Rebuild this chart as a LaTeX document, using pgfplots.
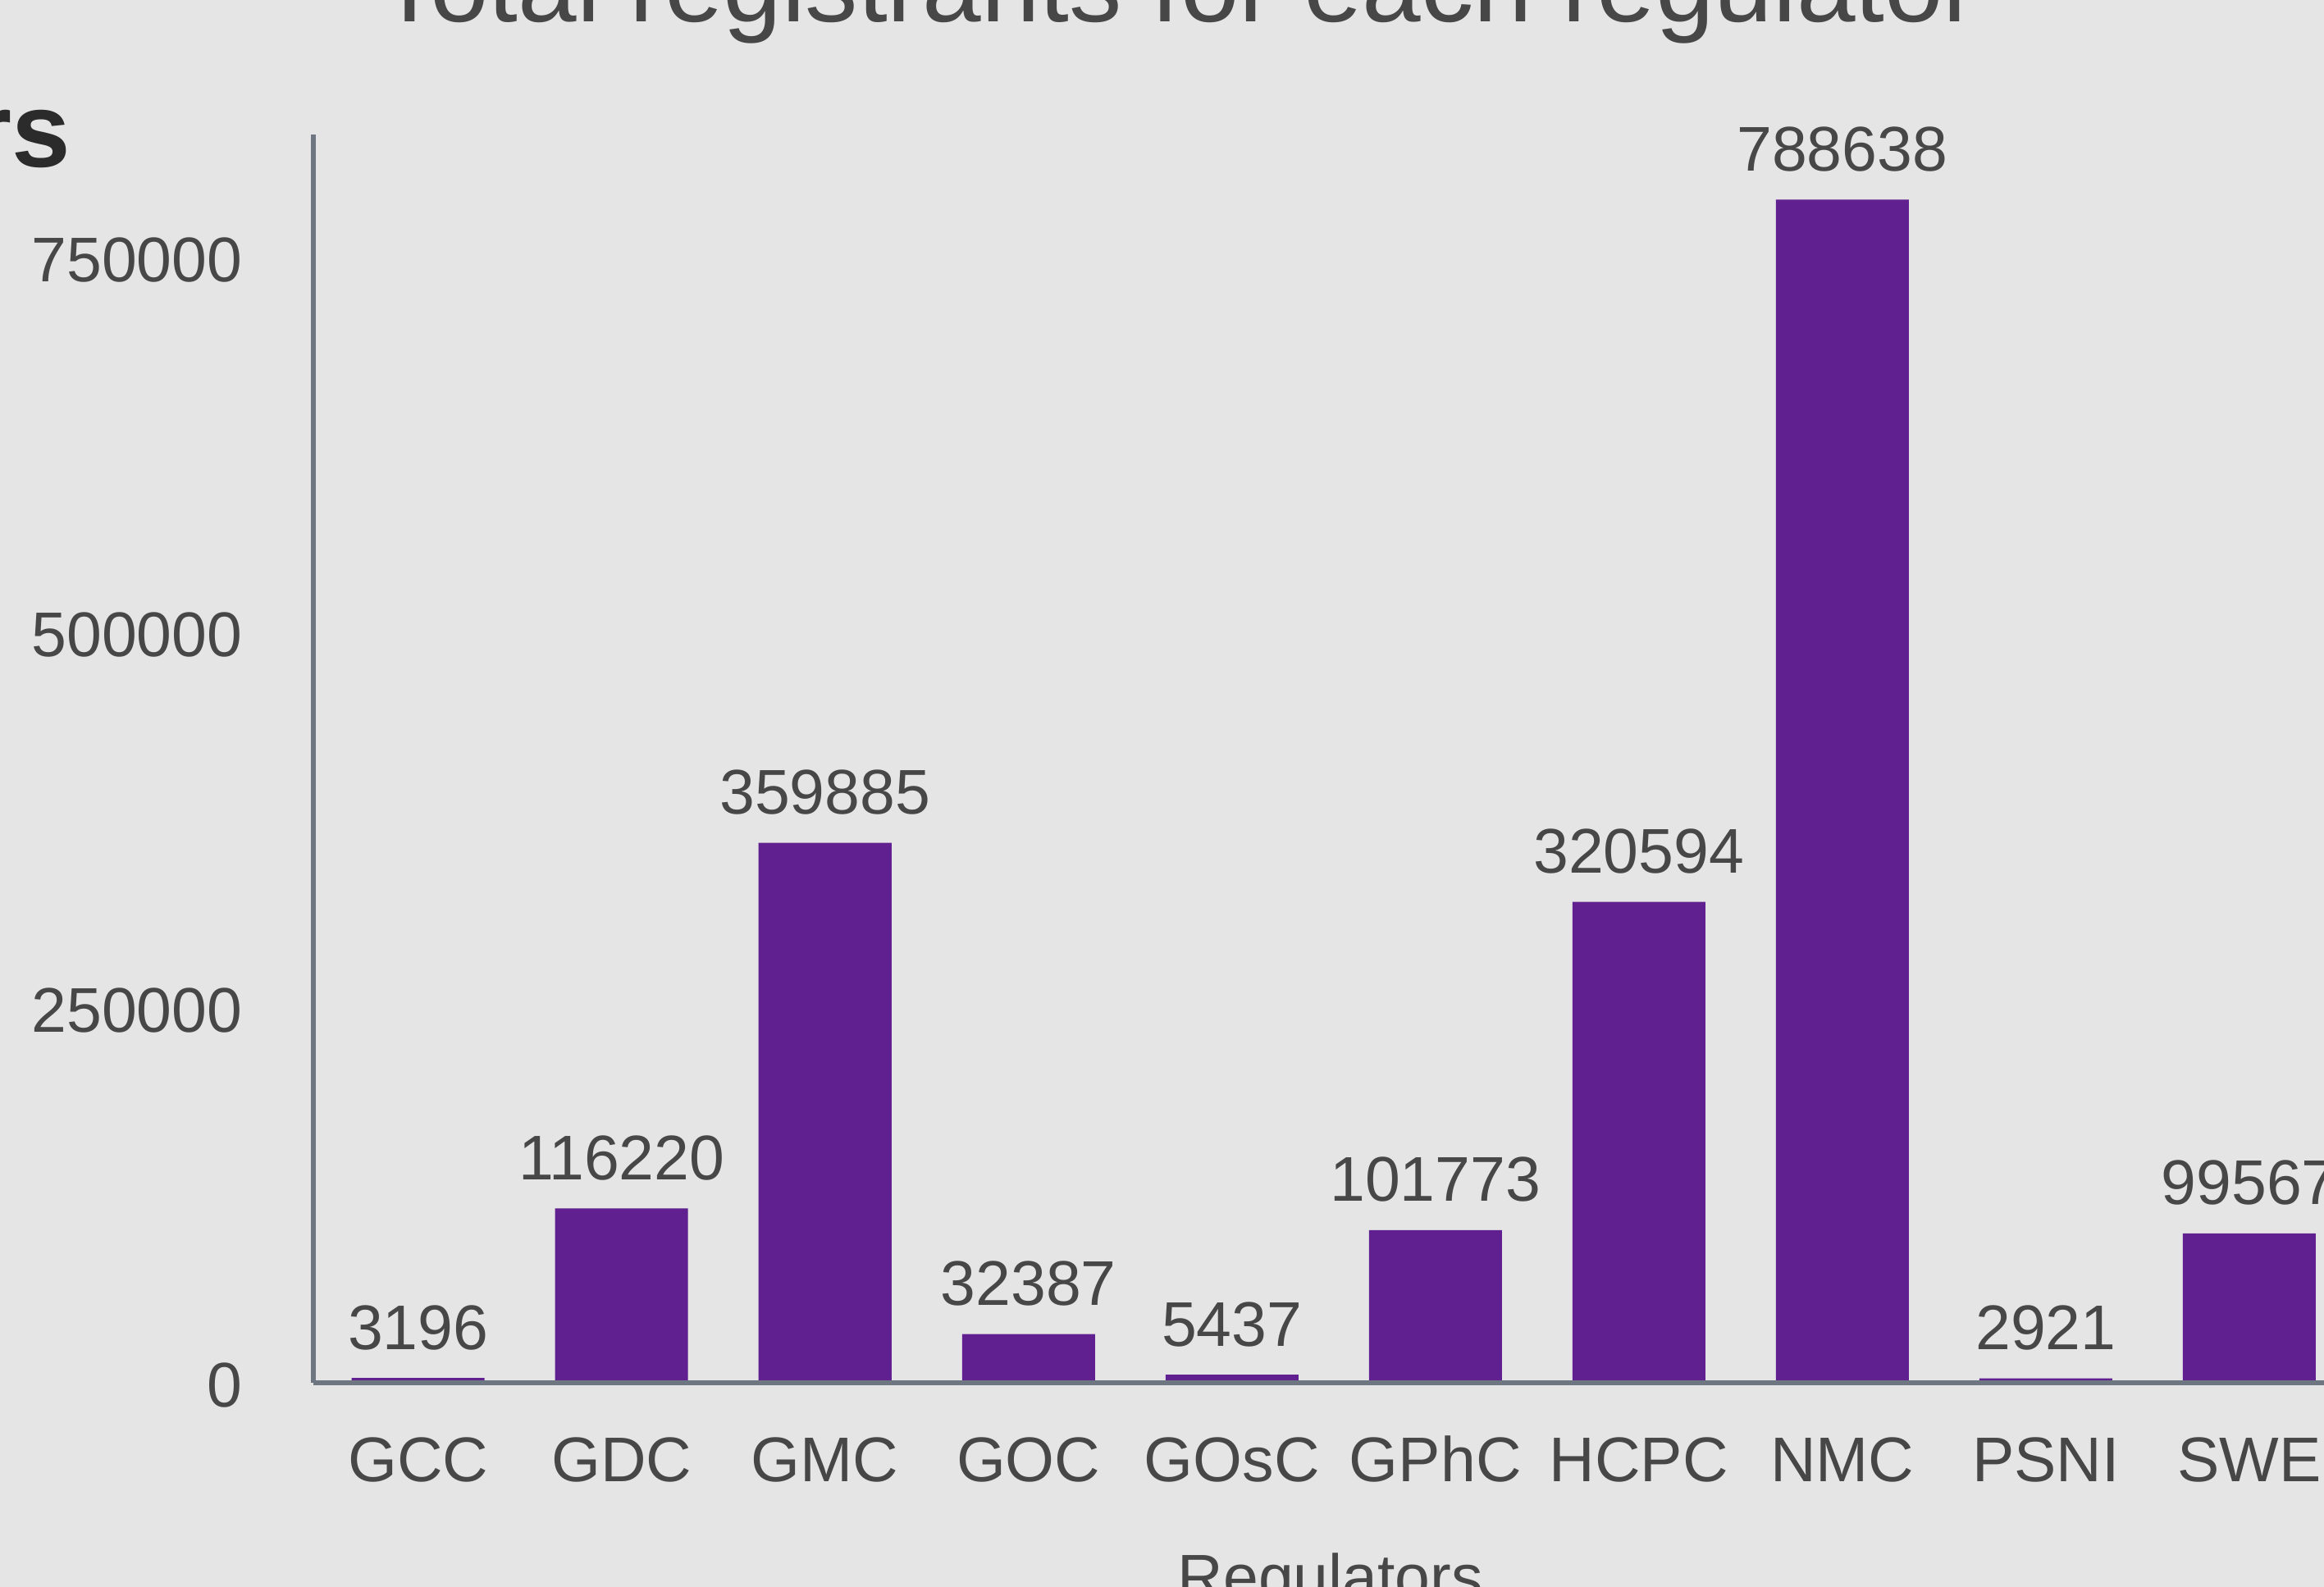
\documentclass[border=0pt]{standalone}
\usepackage{pgfplots}
\pgfplotsset{compat=1.18}
\usepackage{fontspec}
\setmainfont{Liberation Sans}
\definecolor{bg}{HTML}{E5E5E5}
\definecolor{barc}{HTML}{61208F}
\definecolor{axc}{HTML}{6E7781}
\definecolor{txt}{HTML}{474747}
\definecolor{dark}{HTML}{2B2B2B}
\newcommand{\lab}{\fontsize{21.9pt}{26pt}\selectfont}
\pgfplotstableread{
x y lab
0 3196 3196
1 116220 116220
2 359885 359885
3 32387 32387
4 5437 5437
5 101773 101773
6 320594 320594
7 788638 788638
8 2921 2921
9 99567 99567
}\regdata
\begin{document}
\begin{tikzpicture}
\useasboundingbox (0,0) rectangle (283.3mm,193.5mm);
\fill[bg] (0,0) rectangle (283.3mm,193.5mm);
\clip (0,0) rectangle (283.3mm,193.5mm);
\begin{axis}[
  at={(38.2mm,24.9mm)}, anchor=south west,
  scale only axis, width=249.2mm, height=152.2mm,
  xmin=-0.515, xmax=9.533, ymin=0, ymax=832000,
  axis lines*=left,
  axis line style={axc, line width=0.56mm},
  axis on top, clip=false,
  ybar, bar width=16.2mm,
  major tick length=0pt,
  scaled y ticks=false,
  xtick={0,...,9},
  xticklabels={GCC,GDC,GMC,GOC,GOsC,GPhC,HCPC,NMC,PSNI,SWE},
  ytick={0,250000,500000,750000},
  yticklabels={0,250000,500000,750000},
  tick label style={font=\lab, text=txt, inner sep=0pt},
  xticklabel style={anchor=base, yshift=-12.1mm},
  yticklabel style={anchor=east, xshift=-8.6mm, yshift=-0.3mm},
  nodes near coords,
  point meta=explicit symbolic,
  every node near coord/.append style={font=\lab, text=txt, anchor=base, yshift=3.5mm, inner sep=0pt},
]
\addplot[fill=barc, draw=none] table[x=x, y=y, meta=lab]{\regdata};
\end{axis}
\node[anchor=base, inner sep=0pt, text=txt, font=\fontsize{36.6pt}{44pt}\selectfont] at (143.6mm,190.83mm) {Total registrants for each regulator};
\node[anchor=base east, inner sep=0pt, text=dark, font=\fontsize{36.6pt}{44pt}\selectfont\bfseries] at (8.7mm,173.1mm) {Numbers};
\node[anchor=base west, inner sep=0pt, text=txt, font=\lab] at (143.5mm,-1.5mm) {Regulators};
\end{tikzpicture}
\end{document}
